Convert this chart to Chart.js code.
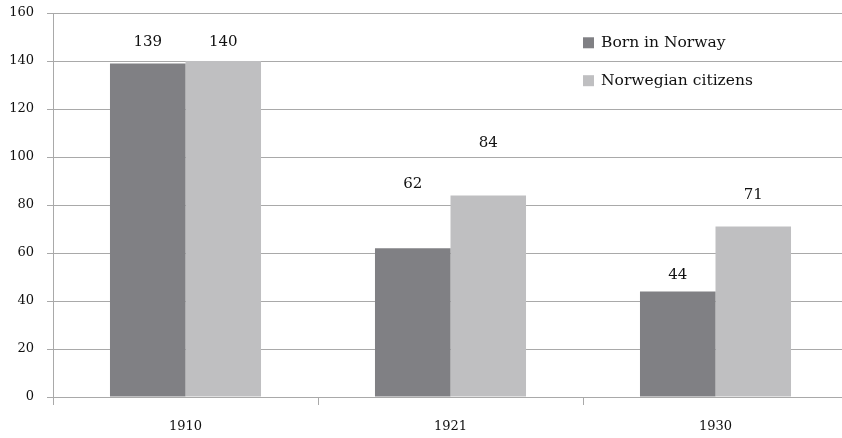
<!DOCTYPE html>
<html><head><meta charset="utf-8">
<script src="https://cdn.jsdelivr.net/npm/chart.js@4/dist/chart.umd.min.js"></script>
<style>html,body{margin:0;padding:0;background:#fff;overflow:hidden}#w{width:842px;height:438px;overflow:hidden}</style>
</head><body><div id="w"><canvas id="c" width="848" height="438"></canvas></div>
<script>
const categories = ['1910', '1921', '1930'];
const bornInNorway = [139, 62, 44];
const norwegianCitizens = [140, 84, 71];
const seriesNames = ['Born in Norway', 'Norwegian citizens'];
const yTicks = [0, 20, 40, 60, 80, 100, 120, 140, 160];
// label anchor heights (in value units) as placed in the reference
const bornLabelAt = [147.8, 88.5, 50.9];
const citizenLabelAt = [147.8, 105.6, 84.3];

const FONT = '"DejaVu Serif", "Liberation Serif", serif';
const DARK = '#808084';
const LIGHT = '#bfbfc1';
const GRID = '#a9a9a9';
const TEXT = '#111111';

const labelPlugin = {
  id: 'labels',
  afterDatasetsDraw(chart) {
    const ctx = chart.ctx, y = chart.scales.y;
    const at = [bornLabelAt, citizenLabelAt];
    ctx.save();
    ctx.font = '15px ' + FONT;
    ctx.fillStyle = TEXT;
    ctx.textAlign = 'center';
    ctx.textBaseline = 'middle';
    chart.data.datasets.forEach((ds, i) => {
      chart.getDatasetMeta(i).data.forEach((bar, j) => {
        ctx.fillText(String(ds.data[j]), bar.x, y.getPixelForValue(at[i][j]));
      });
    });
    // legend
    const a = chart.chartArea;
    const lx = a.left + 530;
    const rows = [y.getPixelForValue(147.8), y.getPixelForValue(132.0)];
    ctx.textAlign = 'left';
    ctx.font = '15.5px ' + FONT;
    chart.data.datasets.forEach((ds, i) => {
      ctx.fillStyle = ds.backgroundColor;
      ctx.fillRect(lx, rows[i] - 5, 11, 11);
      ctx.fillStyle = TEXT;
      ctx.fillText(ds.label, lx + 18, rows[i] + 1);
    });
    ctx.restore();
  }
};

new Chart(document.getElementById('c'), {
  type: 'bar',
  data: {
    labels: categories,
    datasets: [
      { label: seriesNames[0], data: bornInNorway, backgroundColor: DARK },
      { label: seriesNames[1], data: norwegianCitizens, backgroundColor: LIGHT }
    ]
  },
  options: {
    responsive: false,
    animation: false,
    devicePixelRatio: 1,
    layout: { padding: { top: 13, right: 0, left: 0, bottom: 0 } },
    plugins: { legend: { display: false }, tooltip: { enabled: false } },
    datasets: { bar: { categoryPercentage: 0.57, barPercentage: 1.0 } },
    scales: {
      x: {
        grid: { display: true, drawOnChartArea: false, drawTicks: true, tickLength: 8, color: GRID, offset: true },
        border: { display: true, color: GRID },
        ticks: { font: { family: FONT, size: 13 }, color: TEXT, padding: 14 },
        afterFit(s) { s.height = 41; s.paddingLeft = 0; s.paddingRight = 0; }
      },
      y: {
        min: 0, max: 160,
        afterBuildTicks(s) { s.ticks = yTicks.map(v => ({ value: v })); },
        grid: { color: GRID, tickLength: 6, drawTicks: true },
        border: { display: true, color: GRID },
        ticks: { font: { family: FONT, size: 13 }, color: TEXT, padding: 13 },
        afterFit(s) { s.width = 53; s.paddingTop = 0; s.paddingBottom = 0; }
      }
    }
  },
  plugins: [labelPlugin]
});
</script>
</body></html>
